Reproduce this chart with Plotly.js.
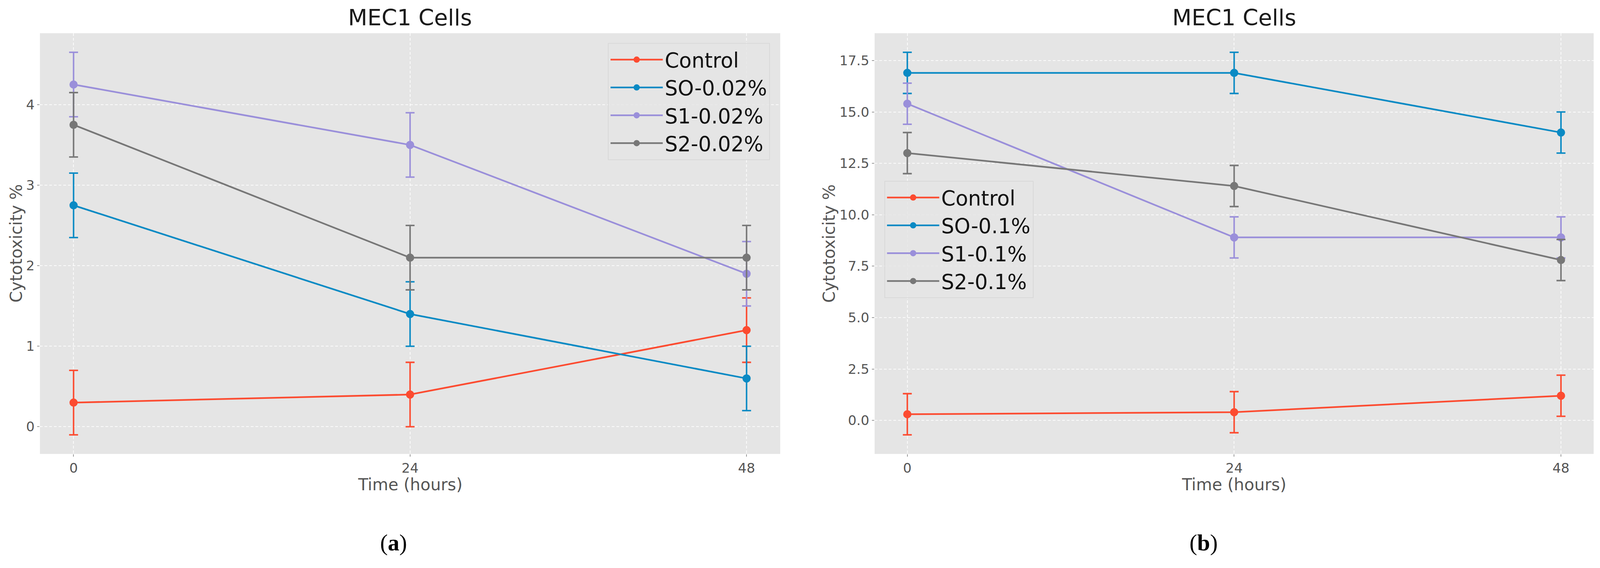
<!DOCTYPE html>
<html>
<head>
<meta charset="utf-8">
<script src="https://cdn.plot.ly/plotly-3.0.1.min.js"></script>
<style>
html,body{margin:0;padding:0;background:#fff;overflow:hidden;}
#chart{position:absolute;left:0;top:0;}
</style>
</head>
<body>
<div id="chart"></div>
<script>
// ---- data ----
const timeHours = [0, 24, 48];
const timeTickLabels = ['0', '24', '48'];

const namesA = ['Control', 'SO-0.02%', 'S1-0.02%', 'S2-0.02%'];
const controlA = [0.3, 0.4, 1.2];
const soA = [2.75, 1.4, 0.6];
const s1A = [4.25, 3.5, 1.9];
const s2A = [3.75, 2.1, 2.1];
const errA = [0.4, 0.4, 0.4];
const yTicksA = [0, 1, 2, 3, 4];

const namesB = ['Control', 'SO-0.1%', 'S1-0.1%', 'S2-0.1%'];
const controlB = [0.3, 0.4, 1.2];
const soB = [16.9, 16.9, 14.0];
const s1B = [15.4, 8.9, 8.9];
const s2B = [13.0, 11.4, 7.8];
const errB = [1.0, 1.0, 1.0];
const yTicksB = [0, 2.5, 5, 7.5, 10, 12.5, 15, 17.5];
const yTickLabelsB = ['0.0', '2.5', '5.0', '7.5', '10.0', '12.5', '15.0', '17.5'];

const colors = ['#FC4B30', '#0A8AC4', '#9A8FDA', '#777777'];

// ---- layout helpers (design grid 4288 x 1454, scaled to the real viewport) ----
const W0 = 4288, H0 = 1454;
const W = window.innerWidth || W0, H = window.innerHeight || H0;
const s = Math.min(W / W0, H / H0);
const S = v => v * s;
const FONT = 'DejaVu Sans, Verdana, sans-serif';
const px = v => v / W0;
const py = v => 1 - v / H0;

document.getElementById('chart').style.width = W + 'px';
document.getElementById('chart').style.height = H + 'px';

function mk(name, y, err, color, xa, ya, leg) {
  return {
    type: 'scatter', mode: 'lines+markers',
    x: timeHours, y: y, name: name,
    xaxis: xa, yaxis: ya, legend: leg,
    line: {color: color, width: S(4.5)},
    marker: {color: color, size: S(22)},
    error_y: {type: 'data', array: err, visible: true, color: color, thickness: S(4), width: S(12)}
  };
}

const seriesA = [controlA, soA, s1A, s2A];
const seriesB = [controlB, soB, s1B, s2B];
const traces = [];
seriesA.forEach((v, i) => traces.push(mk(namesA[i], v, errA, colors[i], 'x', 'y', 'legend')));
seriesB.forEach((v, i) => traces.push(mk(namesB[i], v, errB, colors[i], 'x2', 'y2', 'legend2')));

const gridStyle = {
  showgrid: true, gridcolor: 'rgba(255,255,255,0.85)', gridwidth: S(2),
  griddash: Math.round(S(7)) + 'px,' + Math.round(S(5)) + 'px',
  zeroline: false, showline: false,
  ticks: 'outside', ticklen: S(6), tickwidth: S(2), tickcolor: '#9a9a9a',
  tickfont: {family: FONT, size: S(36), color: '#555555'}
};

const yDom = [py(1162), py(85)];

const legendStyle = {
  xanchor: 'left', yanchor: 'top',
  bgcolor: 'rgba(229,229,229,0.8)', bordercolor: '#d9d9d9', borderwidth: S(2),
  font: {family: FONT, size: S(55), color: '#111111'},
  itemwidth: S(140)
};

const titleFont = {family: FONT, size: S(60), color: '#1a1a1a'};
const labelFont = {family: FONT, size: S(44), color: '#555555'};
const panelFont = {family: 'Liberation Serif, Times New Roman, serif', size: S(62), color: '#000000'};

const cxA = (107 + 2091) / 2, cxB = (2344 + 4271) / 2;
const cy = (85 + 1162) / 2;

const layout = {
  width: W, height: H,
  margin: {l: 0, r: 0, t: 0, b: 0, pad: 0},
  paper_bgcolor: '#ffffff',
  plot_bgcolor: '#E5E5E5',
  showlegend: true,
  xaxis: Object.assign({}, gridStyle, {domain: [px(107), px(2091)], range: [-2.4, 50.4], tickvals: timeHours, ticktext: timeTickLabels, anchor: 'y', ticklabelstandoff: S(2)}),
  yaxis: Object.assign({}, gridStyle, {domain: yDom, range: [-0.3375, 4.8875], tickvals: yTicksA, anchor: 'x', ticklabelstandoff: S(5)}),
  xaxis2: Object.assign({}, gridStyle, {domain: [px(2344), px(4271)], range: [-2.4, 50.4], tickvals: timeHours, ticktext: timeTickLabels, anchor: 'y2', ticklabelstandoff: S(2)}),
  yaxis2: Object.assign({}, gridStyle, {domain: yDom, range: [-1.63, 18.83], tickvals: yTicksB, ticktext: yTickLabelsB, anchor: 'x2', ticklabelstandoff: S(5)}),
  legend: Object.assign({}, legendStyle, {x: px(1629), y: py(110)}),
  legend2: Object.assign({}, legendStyle, {x: px(2370), y: py(463)}),
  annotations: [
    {text: 'MEC1 Cells', x: px(cxA), y: py(46), xref: 'paper', yref: 'paper', showarrow: false, font: titleFont, xanchor: 'center', yanchor: 'middle'},
    {text: 'MEC1 Cells', x: px(cxB), y: py(46), xref: 'paper', yref: 'paper', showarrow: false, font: titleFont, xanchor: 'center', yanchor: 'middle'},
    {text: 'Cytotoxicity %', x: px(43), y: py(cy), xref: 'paper', yref: 'paper', showarrow: false, textangle: -90, font: labelFont, xanchor: 'center', yanchor: 'middle'},
    {text: 'Cytotoxicity %', x: px(2222), y: py(cy), xref: 'paper', yref: 'paper', showarrow: false, textangle: -90, font: labelFont, xanchor: 'center', yanchor: 'middle'},
    {text: 'Time (hours)', x: px(cxA), y: py(1240), xref: 'paper', yref: 'paper', showarrow: false, font: labelFont, xanchor: 'center', yanchor: 'middle'},
    {text: 'Time (hours)', x: px(cxB), y: py(1240), xref: 'paper', yref: 'paper', showarrow: false, font: labelFont, xanchor: 'center', yanchor: 'middle'},
    {text: '(<b>a</b>)', x: px(1055), y: py(1389), xref: 'paper', yref: 'paper', showarrow: false, font: panelFont, xanchor: 'center', yanchor: 'middle'},
    {text: '(<b>b</b>)', x: px(3225), y: py(1389), xref: 'paper', yref: 'paper', showarrow: false, font: panelFont, xanchor: 'center', yanchor: 'middle'}
  ]
};

Plotly.newPlot('chart', traces, layout, {staticPlot: true, displayModeBar: false});
</script>
</body>
</html>
